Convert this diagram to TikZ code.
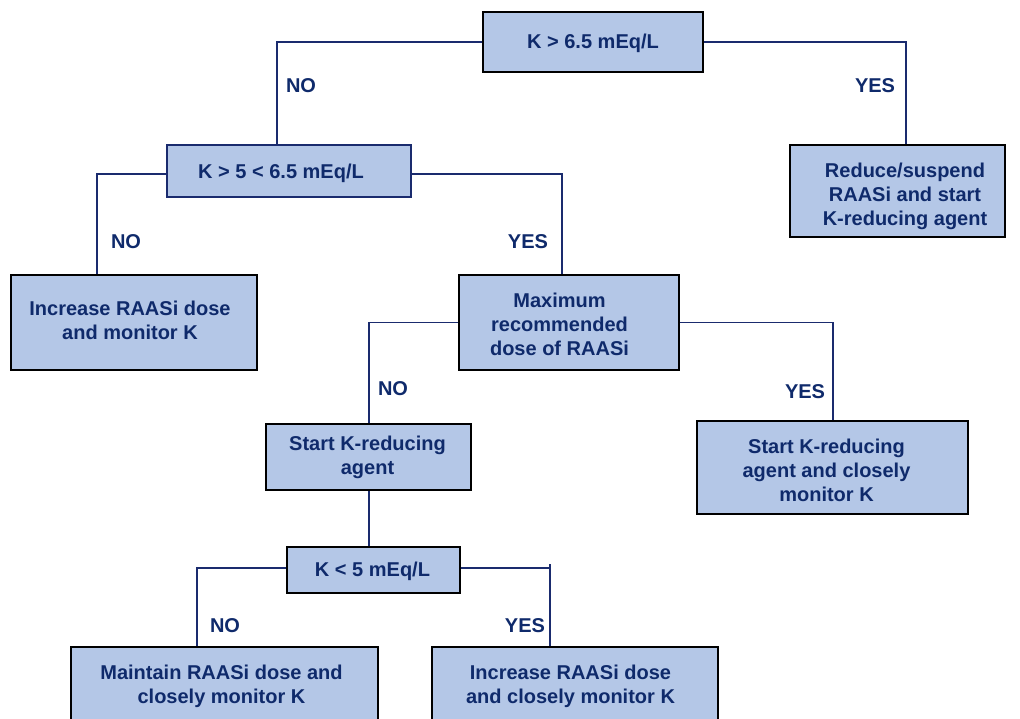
\documentclass[tikz,border=0pt]{standalone}
\usepackage{fontspec}
\setmainfont{Liberation Sans}
\definecolor{boxfill}{HTML}{B4C7E7}
\definecolor{navy}{HTML}{0F2A6B}
\definecolor{linecol}{HTML}{1A2B6E}
\begin{document}
\begin{tikzpicture}[x=1pt,y=-1pt,
  box/.style={draw=black,line width=1.6pt,fill=boxfill,inner sep=0pt},
  boxtext/.style={text=navy,align=center,
    font=\fontsize{20}{24}\selectfont\bfseries,inner sep=0pt},
  lbl/.style={text=navy,font=\fontsize{20}{24}\selectfont\bfseries,inner sep=0pt},
  conn/.style={draw=linecol,line width=1.5pt}]
\useasboundingbox (0,0) rectangle (1020,718);
\node[box,minimum width=220pt,minimum height=60pt,
  label={[boxtext,yshift=-1pt]center:K > 6.5 mEq/L}] (b1) at (593,42) {};
\node[box,draw=linecol,minimum width=244pt,minimum height=52pt,
  label={[boxtext,xshift=-8pt,yshift=-2pt]center:K > 5 < 6.5 mEq/L}] (b2) at (289,171) {};
\node[box,minimum width=215pt,minimum height=92pt,
  label={[boxtext,xshift=7.5pt,yshift=-5pt]center:Reduce/suspend\\RAASi and start\\K-reducing agent}] (b3) at (897.5,191) {};
\node[box,minimum width=246pt,minimum height=95pt,
  label={[boxtext,xshift=-4pt,yshift=2pt]center:Increase RAASi dose\\and monitor K}] (b4) at (134,322.5) {};
\node[box,minimum width=220pt,minimum height=95pt,
  label={[boxtext,xshift=-9.5pt,yshift=-2pt]center:Maximum\\recommended\\dose of RAASi}] (b5) at (569,322.5) {};
\node[box,minimum width=205pt,minimum height=66pt,
  label={[boxtext,xshift=-1pt]center:Start K-reducing\\agent}] (b6) at (368.5,457) {};
\node[box,minimum width=271pt,minimum height=93pt,
  label={[boxtext,xshift=-6pt,yshift=-3pt]center:Start K-reducing\\agent and closely\\monitor K}] (b7) at (832.5,467.5) {};
\node[box,minimum width=173pt,minimum height=46pt,
  label={[boxtext,xshift=-1pt,yshift=-1pt]center:K < 5 mEq/L}] (b8) at (373.5,570) {};
\node[box,minimum width=307pt,minimum height=80pt,
  label={[boxtext,xshift=-3pt,yshift=1pt]center:Maintain RAASi dose and\\closely monitor K}] (b9) at (224.5,687) {};
\node[box,minimum width=286pt,minimum height=80pt,
  label={[boxtext,xshift=-4.5pt,yshift=1pt]center:Increase RAASi dose\\and closely monitor K}] (b10) at (575,687) {};

\node[lbl] (n1) at (301,86) {NO};
\node[lbl] (y1) at (875,86) {YES};
\node[lbl] (n2) at (126,242) {NO};
\node[lbl] (y2) at (528,242) {YES};
\node[lbl] (n3) at (393,389) {NO};
\node[lbl] (y3) at (805,392) {YES};
\node[lbl] (n4) at (225,626) {NO};
\node[lbl] (y4) at (525,626) {YES};

\draw[conn] (b1.west) -| ([xshift=-12pt]b2.north);
\draw[conn] (b1.east) -| ([xshift=8.5pt]b3.north);
\draw[conn] ([yshift=-3pt]b2.west) -| ([xshift=-37pt]b4.north);
\draw[conn] ([yshift=-3pt]b2.east) -| ([xshift=-7pt]b5.north);
\draw[conn] (b5.west) -| ([xshift=0.5pt]b6.north);
\draw[conn] (b5.east) -| ([xshift=0.5pt]b7.north);
\draw[conn] ([xshift=0.5pt]b6.south) -- ([xshift=-4.5pt]b8.north);
\draw[conn] ([yshift=2pt]b8.west) -| ([xshift=-27.5pt]b9.north);
\draw[conn] ([yshift=2pt]b8.east) -| ([xshift=-25pt]b10.north);
\draw[conn] ([xshift=-25pt]b10.north) -- ++(0,-82);
\end{tikzpicture}
\end{document}
